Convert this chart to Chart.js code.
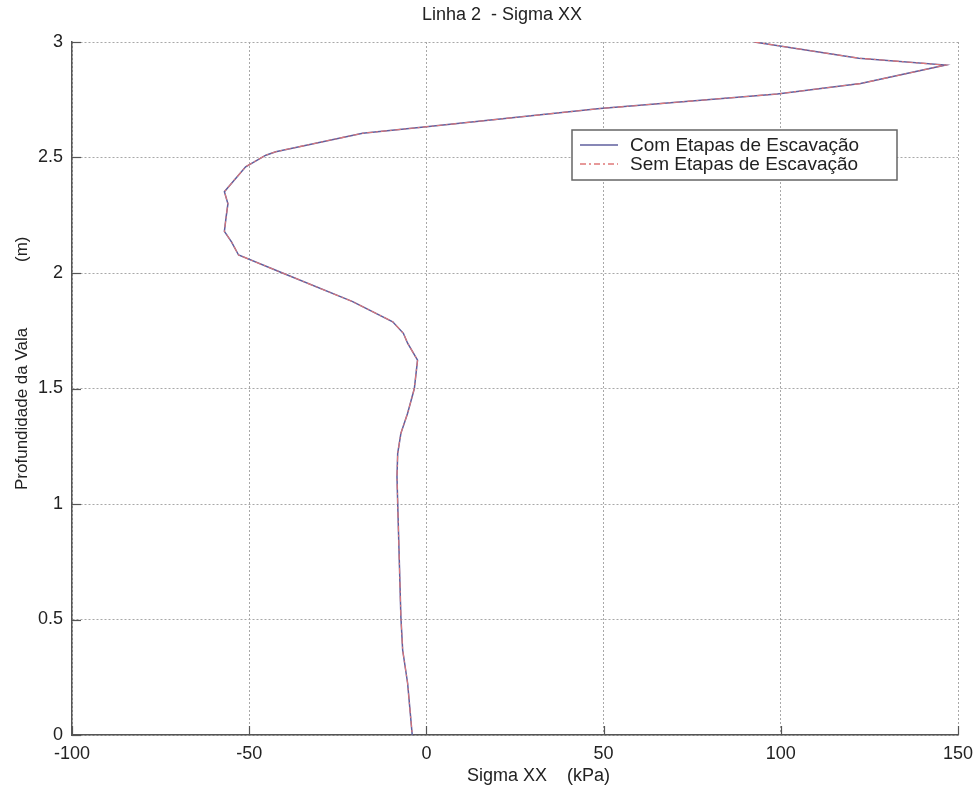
<!DOCTYPE html>
<html>
<head>
<meta charset="utf-8">
<title>Linha 2 - Sigma XX</title>
<script src="https://cdn.jsdelivr.net/npm/chart.js@4/dist/chart.umd.min.js"></script>
<style>
  html, body { margin: 0; padding: 0; background: #fff; }
  #wrap { width: 975px; height: 794px; }
</style>
</head>
<body>
<div id="wrap"><canvas id="chart" width="975" height="794"></canvas></div>
<script>
// depth along the trench (m), top to bottom
const depth = [
  3.000, 2.930, 2.900, 2.820, 2.775, 2.712, 2.633, 2.605, 2.525, 2.510,
  2.460, 2.352, 2.300, 2.244, 2.180, 2.135, 2.078, 2.000, 1.876, 1.789,
  1.739, 1.696, 1.623, 1.500, 1.393, 1.306, 1.219, 1.118, 1.003, 0.729,
  0.512, 0.368, 0.224, 0.000
];

// Sigma XX (kPa) - with excavation stages
const sigmaCom = [
  92.5, 122.0, 146.5, 122.5, 99.0, 49.0, 0.0, -18.0, -42.5, -45.3,
  -51.0, -57.0, -56.0, -56.5, -57.0, -55.0, -53.0, -40.6, -20.8, -9.5,
  -6.5, -5.3, -2.5, -3.4, -5.3, -7.2, -8.1, -8.3, -8.1, -7.6,
  -7.2, -6.7, -5.3, -4.0
];

// Sigma XX (kPa) - without excavation stages (overlaps the other curve)
const sigmaSem = [
  92.5, 122.0, 146.5, 122.5, 99.0, 49.0, 0.0, -18.0, -42.5, -45.3,
  -51.0, -57.0, -56.0, -56.5, -57.0, -55.0, -53.0, -40.6, -20.8, -9.5,
  -6.5, -5.3, -2.5, -3.4, -5.3, -7.2, -8.1, -8.3, -8.1, -7.6,
  -7.2, -6.7, -5.3, -4.0
];

const seriesNames = ["Com Etapas de Escavação", "Sem Etapas de Escavação"];
const xTicks = [-100, -50, 0, 50, 100, 150];
const yTicks = [0, 0.5, 1, 1.5, 2, 2.5, 3];

const FONT = "'Liberation Sans', Arial, Helvetica, sans-serif";
const TEXT = "#222";
const AXIS = "#555";
const GRID = "#a8a8a8";
const BLUE = "#5f5f9e";
const RED = "#e07878";

function toPoints(xs, ys) {
  return xs.map((x, i) => ({ x: x, y: ys[i] }));
}

// titles, legend and MATLAB-like inner tick marks
const decorations = {
  id: "decorations",
  afterDraw(chart) {
    const ctx = chart.ctx;
    const xs = chart.scales.x;
    const ys = chart.scales.y;
    const area = chart.chartArea;

    ctx.save();
    ctx.strokeStyle = AXIS;
    ctx.lineWidth = 1.2;
    xTicks.forEach(v => {
      const px = Math.round(xs.getPixelForValue(v)) + 0.5;
      ctx.beginPath();
      ctx.moveTo(px, area.bottom);
      ctx.lineTo(px, area.bottom - 9);
      ctx.stroke();
    });
    yTicks.forEach(v => {
      const py = Math.round(ys.getPixelForValue(v)) + 0.5;
      ctx.beginPath();
      ctx.moveTo(area.left, py);
      ctx.lineTo(area.left + 9, py);
      ctx.stroke();
    });

    ctx.fillStyle = TEXT;
    ctx.textBaseline = "middle";

    // chart title
    ctx.font = "18px " + FONT;
    ctx.textAlign = "center";
    ctx.fillText("Linha 2  - Sigma XX", 502, 15);

    // x axis title
    ctx.textAlign = "left";
    ctx.fillText("Sigma XX    (kPa)", 467, 776);

    // y axis title
    ctx.save();
    ctx.translate(22, 490);
    ctx.rotate(-Math.PI / 2);
    ctx.textAlign = "left";
    ctx.font = "17px " + FONT;
    ctx.fillText("Profundidade da Vala", 0, 0);
    ctx.fillText("(m)", 228, 0);
    ctx.restore();

    // legend
    const bx = 572, by = 130, bw = 325, bh = 50;
    ctx.fillStyle = "#fff";
    ctx.fillRect(bx, by, bw, bh);
    ctx.strokeStyle = "#666";
    ctx.lineWidth = 1.5;
    ctx.strokeRect(bx, by, bw, bh);

    chart.data.datasets.forEach((ds, i) => {
      const cy = 145 + i * 19;
      ctx.strokeStyle = ds.borderColor;
      ctx.lineWidth = 1.3;
      ctx.setLineDash(ds.borderDash || []);
      ctx.beginPath();
      ctx.moveTo(580, cy);
      ctx.lineTo(618, cy);
      ctx.stroke();
      ctx.setLineDash([]);
      ctx.fillStyle = TEXT;
      ctx.font = "19px " + FONT;
      ctx.textAlign = "left";
      ctx.fillText(ds.label, 630, cy + 1);
    });
    ctx.restore();
  }
};

new Chart(document.getElementById("chart"), {
  type: "scatter",
  data: {
    datasets: [
      {
        label: seriesNames[0],
        data: toPoints(sigmaCom, depth),
        showLine: true,
        borderColor: BLUE,
        borderWidth: 1.5,
        pointRadius: 0,
        tension: 0,
        order: 1
      },
      {
        label: seriesNames[1],
        data: toPoints(sigmaSem, depth),
        showLine: true,
        borderColor: RED,
        borderWidth: 1.1,
        borderDash: [6, 3, 2, 3],
        pointRadius: 0,
        tension: 0,
        order: 0
      }
    ]
  },
  options: {
    responsive: false,
    animation: false,
    layout: { padding: { top: 42, right: 17, left: 0, bottom: 0 } },
    plugins: {
      legend: { display: false },
      title: { display: false },
      tooltip: { enabled: false }
    },
    scales: {
      x: {
        type: "linear",
        min: xTicks[0],
        max: xTicks[xTicks.length - 1],
        afterBuildTicks: s => { s.ticks = xTicks.map(v => ({ value: v })); },
        afterFit: s => { s.height = 59; s.paddingLeft = 0; s.paddingRight = 0; },
        ticks: { color: TEXT, font: { family: FONT, size: 18 }, padding: 8, maxRotation: 0,
                 callback: v => String(v) },
        grid: { color: GRID, lineWidth: 1, drawTicks: false },
        border: { display: true, color: AXIS, width: 1.5, dash: [2, 2] }
      },
      y: {
        type: "linear",
        min: yTicks[0],
        max: yTicks[yTicks.length - 1],
        afterBuildTicks: s => { s.ticks = yTicks.map(v => ({ value: v })); },
        afterFit: s => { s.width = 72; s.paddingTop = 0; s.paddingBottom = 0; },
        ticks: { color: TEXT, font: { family: FONT, size: 18 }, padding: 9,
                 callback: v => String(v) },
        grid: { color: GRID, lineWidth: 1, drawTicks: false },
        border: { display: true, color: AXIS, width: 1.5, dash: [2, 2] }
      }
    }
  },
  plugins: [decorations]
});
</script>
</body>
</html>
